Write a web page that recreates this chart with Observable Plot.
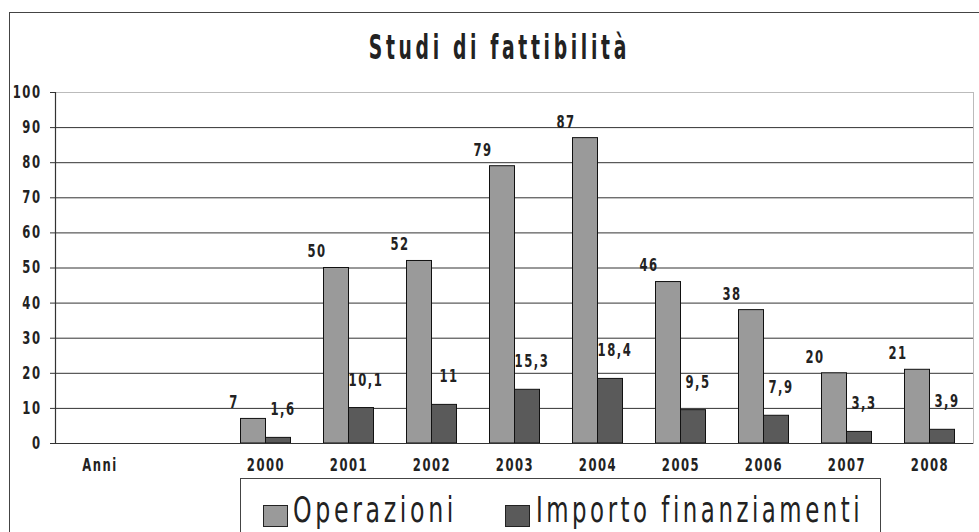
<!DOCTYPE html>
<html>
<head>
<meta charset="utf-8">
<script src="https://cdn.jsdelivr.net/npm/d3@7"></script>
<script src="https://cdn.jsdelivr.net/npm/@observablehq/plot@0.6"></script>
<style>
  html, body { margin: 0; padding: 0; background: #fff; width: 979px; height: 532px; overflow: hidden; }
  #wrap { position: relative; width: 979px; height: 532px; }
  #frame { position: absolute; left: 9px; top: 12px; width: 990px; height: 560px; border: 1.5px solid #444; box-sizing: border-box; }
  #chart { position: absolute; left: 0; top: 0; }
  #title { position: absolute; left: 20px; width: 959px; top: 27px; text-align: center;
    font-family: "DejaVu Sans Condensed", "Liberation Sans Narrow", sans-serif; font-stretch: condensed; font-weight: bold;
    font-size: 34px; letter-spacing: 6px; color: #222; white-space: nowrap; }
  #title span { display: inline-block; transform-origin: center; }
  #legend { position: absolute; left: 240px; top: 478px; width: 641px; height: 80px; border: 1.5px solid #444;
    background: #fff; box-sizing: border-box; font-family: "DejaVu Sans Condensed", "Liberation Sans Narrow", sans-serif; font-stretch: condensed;
    font-size: 36px; letter-spacing: 5px; color: #222; white-space: nowrap; }
  .sw { position: absolute; top: 26px; width: 25px; height: 22px; border: 1.5px solid #222; box-sizing: border-box; }
  .lab { position: absolute; top: 10px; line-height: 42px; display: inline-block; transform-origin: left center; }
</style>
</head>
<body>
<div id="wrap">
  <div id="frame"></div>
  <div id="chart"></div>
  <div id="title"><span></span></div>
  <div id="legend"></div>
</div>
<script>
const title = "Studi di fattibilità";
const xLabels = ["Anni", "", "2000", "2001", "2002", "2003", "2004", "2005", "2006", "2007", "2008"];
const years = ["2000", "2001", "2002", "2003", "2004", "2005", "2006", "2007", "2008"];
const operazioni = [7, 50, 52, 79, 87, 46, 38, 20, 21];
const importo = [1.6, 10.1, 11, 15.3, 18.4, 9.5, 7.9, 3.3, 3.9];
const seriesNames = ["Operazioni", "Importo finanziamenti"];
const seriesColors = ["#9a9a9a", "#5a5a5a"];
const yTicks = [0, 10, 20, 30, 40, 50, 60, 70, 80, 90, 100];

const opData = years.map((y, i) => ({year: y, value: operazioni[i]}));
const imData = years.map((y, i) => ({year: y, value: importo[i]}));
const fmt = v => String(v).replace(".", ",");
const font = '"DejaVu Sans Condensed", "Liberation Sans Narrow", sans-serif';

const plot = Plot.plot({
  width: 979,
  height: 532,
  marginLeft: 55,
  marginRight: 6,
  marginTop: 92,
  marginBottom: 89,
  style: {fontFamily: font, fontStretch: "condensed", background: "transparent", color: "#222"},
  x: {domain: xLabels, paddingInner: 0.7, paddingOuter: 0.35, axis: null},
  y: {domain: [0, 100], axis: null},
  marks: [
    Plot.ruleY(yTicks.filter(t => t > 0 && t < 100), {stroke: "#333", strokeWidth: 1}),
    Plot.ruleY([100], {stroke: "#bbb", strokeWidth: 1}),
    Plot.frame({anchor: "right", stroke: "#bbb"}),
    Plot.barY(opData, {x: "year", y: "value", fill: seriesColors[0], stroke: "#111", strokeWidth: 1, dx: -12.5}),
    Plot.barY(imData, {x: "year", y: "value", fill: seriesColors[1], stroke: "#111", strokeWidth: 1, dx: 12.5}),
    Plot.ruleY([0], {stroke: "#333", strokeWidth: 1.2}),
    Plot.frame({anchor: "left", stroke: "#333", strokeWidth: 1.2}),
    Plot.axisY({ticks: yTicks, tickSize: 5, tickPadding: 9, fontSize: 17, fontWeight: "bold", stroke: "#333", tickFormat: d => d, label: null}),
    Plot.text(xLabels, {x: d => d, frameAnchor: "bottom", dy: 27, text: d => d, fontSize: 17, fontWeight: "bold", fill: "#222"}),
    Plot.text(opData, {x: "year", y: "value", text: d => fmt(d.value), dx: -32, dy: -16, fontSize: 17, fontWeight: "bold", fill: "#222"}),
    Plot.text(imData, {x: "year", y: "value", text: d => fmt(d.value), dx: 17, dy: -28, fontSize: 17, fontWeight: "bold", fill: "#222"})
  ]
});
document.getElementById("chart").appendChild(plot);
plot.querySelectorAll("text").forEach(t => {
  if (!t.textContent) return;
  t.setAttribute("letter-spacing", "2");
  const w = t.getComputedTextLength();
  t.setAttribute("textLength", (w * 0.76).toFixed(1));
  t.setAttribute("lengthAdjust", "spacingAndGlyphs");
});

const tspan = document.querySelector("#title span");
tspan.textContent = title;
tspan.style.transform = `scaleX(${(261 / tspan.getBoundingClientRect().width).toFixed(3)})`;

const legend = document.getElementById("legend");
const swLeft = [22, 264];
const labLeft = [52, 295];
const labWidth = [164, 327];
seriesNames.forEach((name, i) => {
  const sw = document.createElement("div");
  sw.className = "sw";
  sw.style.left = swLeft[i] + "px";
  sw.style.background = seriesColors[i];
  legend.appendChild(sw);
  const label = document.createElement("span");
  label.className = "lab";
  label.style.left = labLeft[i] + "px";
  label.textContent = name;
  legend.appendChild(label);
  const w = label.getBoundingClientRect().width;
  label.style.transform = `scaleX(${(labWidth[i] / w).toFixed(3)})`;
});
</script>
</body>
</html>
